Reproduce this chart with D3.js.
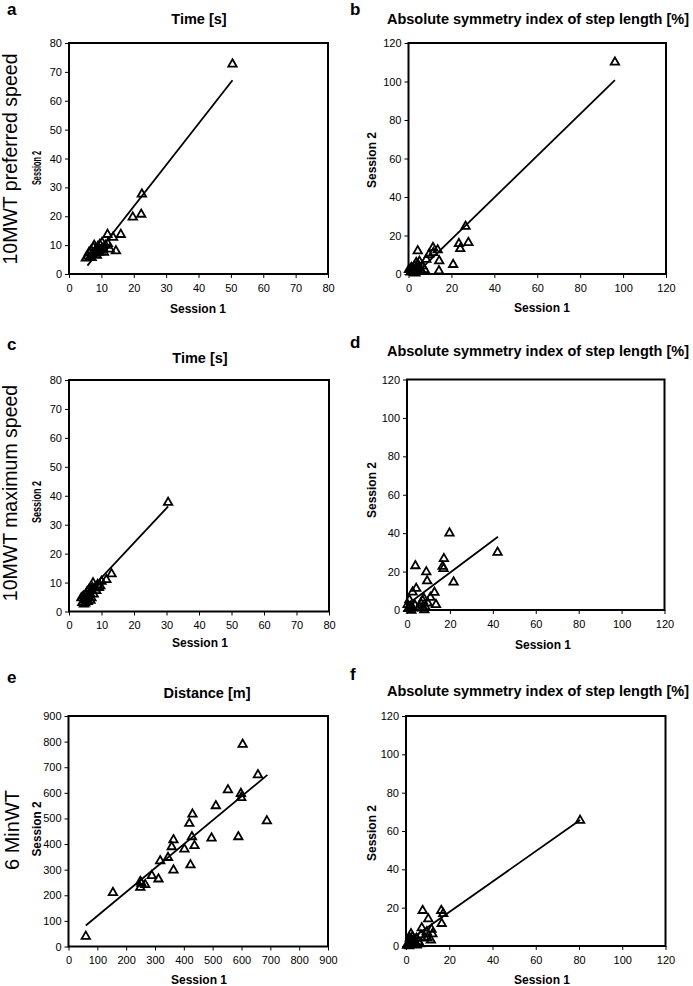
<!DOCTYPE html>
<html>
<head>
<meta charset="utf-8">
<script src="https://cdn.jsdelivr.net/npm/d3@7"></script>
<style>
  html, body { margin: 0; padding: 0; background: #fff; }
  svg { display: block; font-family: "Liberation Sans", Arial, Helvetica, sans-serif; }
</style>
</head>
<body>
<svg id="chart" width="693" height="986"></svg>
<script>
// ---------- DATA ----------
const timeTicks = [0, 10, 20, 30, 40, 50, 60, 70, 80];
const asiTicks = [0, 20, 40, 60, 80, 100, 120];
const distTicks = [0, 100, 200, 300, 400, 500, 600, 700, 800, 900];

// a: 10MWT preferred speed, Time [s]
const aSession1 = [50.5, 22.5, 19.7, 22.3, 11.9, 16.0, 13.6, 14.5, 12.6, 5.2, 5.8, 6.2, 6.5, 6.8, 7.2, 7.5, 7.8, 8.0, 8.3, 8.6, 8.9, 9.2, 9.5, 9.8, 10.2, 10.5, 10.8, 11.3, 12.0, 7.0, 9.0];
const aSession2 = [73.0, 28.0, 20.0, 21.0, 14.0, 14.0, 13.0, 8.3, 8.9, 5.8, 6.5, 7.8, 6.2, 8.5, 7.0, 9.5, 10.2, 7.5, 8.8, 6.8, 9.8, 7.8, 10.5, 8.5, 11.2, 9.2, 7.8, 10.2, 10.8, 6.0, 8.5];
const aFitX = [5.7, 50.5];
const aFitY = [2.9, 67.1];

// b: 10MWT preferred speed, ASI step length [%]
const bSession1 = [96.2, 26.6, 23.5, 24.1, 27.9, 20.8, 14.3, 14.2, 11.4, 13.6, 11.6, 9.5, 8.3, 4.3, 7.5, 5.1, 3.6, 2.8, 1.3, 0.2, 5.1, 3.9, 2.0, 6.4, 3.2, 4.6, 2.5, 1.0, 5.8];
const bSession2 = [110.5, 25.2, 16.2, 13.6, 16.8, 5.4, 7.3, 2.1, 14.2, 13.0, 11.6, 10.5, 8.1, 12.5, 2.7, 7.0, 6.4, 4.7, 3.8, 2.8, 3.8, 2.0, 2.2, 4.7, 1.0, 5.2, 1.2, 1.5, 2.6];
const bFitX = [3.5, 96.2];
const bFitY = [0.1, 100.7];

// c: 10MWT maximum speed, Time [s]
const cSession1 = [30.5, 13.1, 11.5, 10.0, 7.4, 8.4, 9.2, 8.8, 6.2, 5.6, 5.2, 3.8, 4.1, 4.6, 4.9, 5.4, 6.0, 6.4, 7.0, 7.6, 5.8, 6.9, 8.0, 4.4, 5.0, 9.6, 6.6, 7.2];
const cSession2 = [38.0, 13.3, 11.3, 10.7, 10.2, 7.5, 8.6, 9.6, 8.0, 7.2, 6.2, 5.0, 3.4, 2.9, 4.3, 4.8, 5.5, 6.7, 7.5, 6.3, 3.7, 5.0, 8.4, 5.6, 3.2, 9.2, 4.2, 8.6];
const cFitX = [3.5, 30.5];
const cFitY = [3.9, 36.3];

// d: 10MWT maximum speed, ASI step length [%]
const dSession1 = [19.8, 42.2, 3.9, 17.2, 16.6, 17.0, 9.0, 9.4, 21.7, 4.3, 2.6, 12.8, 10.9, 7.8, 13.5, 9.7, 6.5, 7.3, 8.1, 1.1, 0.3, 1.6, 0.6, 2.6, 3.7, 5.8, 7.3, 2.0, 8.5];
const dSession2 = [40.5, 30.5, 23.5, 27.2, 23.2, 22.0, 20.3, 15.6, 15.0, 11.7, 9.8, 9.6, 7.0, 6.6, 3.3, 4.1, 4.0, 1.5, 0.6, 5.8, 3.3, 2.4, 1.2, 1.5, 2.9, 1.9, 5.4, 0.3, 2.2];
const dFitX = [1.9, 42.4];
const dFitY = [4.3, 38.1];

// e: 6MinWT, Distance [m]
const eSession1 = [60, 154, 249, 249, 266, 289, 312, 318, 345, 364, 358, 364, 402, 423, 437, 428, 419, 430, 496, 511, 553, 589, 598, 599, 657, 688, 604, 253];
const eSession2 = [43, 214, 257, 234, 245, 280, 267, 338, 351, 302, 393, 420, 384, 322, 397, 432, 484, 520, 427, 553, 615, 432, 601, 585, 674, 494, 793, 250];
const eFitX = [60, 690];
const eFitY = [82, 670];

// f: 6MinWT, ASI step length [%]
const fSession1 = [80.5, 7.7, 16.3, 17.2, 16.5, 10.3, 7.3, 11.8, 12.2, 9.6, 11.5, 8.6, 2.3, 1.0, 1.8, 2.8, 3.5, 4.2, 5.0, 5.8, 0.5, 3.0, 4.8, 6.3, 1.5, 2.2, 9.9, 6.9];
const fSession2 = [66.0, 19.0, 19.0, 17.4, 12.2, 14.6, 9.9, 9.1, 6.8, 7.8, 3.5, 5.0, 6.8, 2.0, 4.5, 1.5, 3.8, 2.2, 1.0, 2.8, 0.8, 5.2, 4.4, 1.6, 0.5, 3.0, 4.6, 6.2];
const fFitX = [2.6, 80.5];
const fFitY = [3.9, 65.7];

const rowLabels = ["10MWT preferred speed", "10MWT maximum speed", "6 MinWT"];

// ---------- LAYOUT ----------
const panels = [
  { letter: "a", title: "Time [s]", s1: aSession1, s2: aSession2, fx: aFitX, fy: aFitY, xt: timeTicks, yt: timeTicks,
    L: 69, R: 328, T: 43, B: 274, lx: 7, ly: 15, tx: 199, ty: 24, s1x: 198, s1y: 313, s2x: 41, s2y: 168, s2len: 34 },
  { letter: "b", title: "Absolute symmetry index of step length [%]", s1: bSession1, s2: bSession2, fx: bFitX, fy: bFitY, xt: asiTicks, yt: asiTicks,
    L: 408.5, R: 666, T: 43, B: 274, lx: 350, ly: 15, tx: 538, ty: 24, s1x: 542, s1y: 312, s2x: 376, s2y: 160, s2len: null },
  { letter: "c", title: "Time [s]", s1: cSession1, s2: cSession2, fx: cFitX, fy: cFitY, xt: timeTicks, yt: timeTicks,
    L: 69, R: 329, T: 380, B: 611.5, lx: 7, ly: 350, tx: 200, ty: 363, s1x: 200, s1y: 647, s2x: 41, s2y: 502, s2len: 42 },
  { letter: "d", title: "Absolute symmetry index of step length [%]", s1: dSession1, s2: dSession2, fx: dFitX, fy: dFitY, xt: asiTicks, yt: asiTicks,
    L: 407, R: 664.5, T: 379.5, B: 610, lx: 350, ly: 348, tx: 538, ty: 356, s1x: 543, s1y: 649, s2x: 376, s2y: 490, s2len: null },
  { letter: "e", title: "Distance [m]", s1: eSession1, s2: eSession2, fx: eFitX, fy: eFitY, xt: distTicks, yt: distTicks,
    L: 68.5, R: 328, T: 716, B: 946.5, lx: 7, ly: 683, tx: 207, ty: 698, s1x: 199, s1y: 984, s2x: 41, s2y: 829, s2len: 55 },
  { letter: "f", title: "Absolute symmetry index of step length [%]", s1: fSession1, s2: fSession2, fx: fFitX, fy: fFitY, xt: asiTicks, yt: asiTicks,
    L: 406, R: 665.5, T: 716, B: 946, lx: 350, ly: 680, tx: 538, ty: 696, s1x: 542, s1y: 984, s2x: 376, s2y: 833, s2len: null }
];
const rowLabelPos = [{ x: 17, y: 159, size: 19.5 }, { x: 17, y: 493, size: 19.5 }, { x: 18.5, y: 830, size: 20 }];

const svg = d3.select("#chart");
svg.append("rect").attr("width", 693).attr("height", 986).attr("fill", "#fff");

const tri = "M0,-3.9L4.2,3.4L-4.2,3.4Z";

panels.forEach(p => {
  const xs = d3.scaleLinear().domain([p.xt[0], p.xt[p.xt.length - 1]]).range([p.L, p.R]);
  const ys = d3.scaleLinear().domain([p.yt[0], p.yt[p.yt.length - 1]]).range([p.B, p.T]);
  const g = svg.append("g");

  // axes
  const ax = g.append("g").attr("transform", `translate(0,${p.B})`)
    .call(d3.axisBottom(xs).tickValues(p.xt).tickSize(4).tickPadding(6).tickFormat(d3.format("d")));
  const ay = g.append("g").attr("transform", `translate(${p.L},0)`)
    .call(d3.axisLeft(ys).tickValues(p.yt).tickSize(4).tickPadding(3).tickFormat(d3.format("d")));
  [ax, ay].forEach(a => {
    a.select(".domain").remove();
    a.selectAll(".tick line").attr("stroke", "#000").attr("stroke-width", 1);
    a.selectAll(".tick text").attr("fill", "#000").style("font-size", "11px")
      .style("font-family", '"Liberation Sans", Arial, sans-serif');
  });

  // frame
  g.append("rect").attr("x", p.L).attr("y", p.T).attr("width", p.R - p.L).attr("height", p.B - p.T)
    .attr("fill", "none").attr("stroke", "#000").attr("stroke-width", 2);

  // fit line
  g.append("line")
    .attr("x1", xs(p.fx[0])).attr("y1", ys(p.fy[0]))
    .attr("x2", xs(p.fx[1])).attr("y2", ys(p.fy[1]))
    .attr("stroke", "#000").attr("stroke-width", 1.8);

  // points
  g.selectAll("path.pt").data(p.s1.map((v, i) => [v, p.s2[i]])).enter().append("path")
    .attr("class", "pt")
    .attr("d", tri)
    .attr("transform", d => `translate(${xs(d[0])},${ys(d[1])})`)
    .attr("fill", "none").attr("stroke", "#000").attr("stroke-width", 1.8).attr("stroke-linejoin", "miter");

  // texts
  g.append("text").attr("x", p.lx).attr("y", p.ly).text(p.letter)
    .style("font-size", "17px").style("font-weight", "bold");
  g.append("text").attr("x", p.tx).attr("y", p.ty).attr("text-anchor", "middle").text(p.title)
    .style("font-size", "14.5px").style("font-weight", "bold");
  g.append("text").attr("x", p.s1x).attr("y", p.s1y).attr("text-anchor", "middle").text("Session 1")
    .style("font-size", "12px").style("font-weight", "bold");
  const s2 = g.append("text").attr("transform", `translate(${p.s2x},${p.s2y}) rotate(-90)`)
    .attr("text-anchor", "middle").text("Session 2")
    .style("font-size", "12px").style("font-weight", "bold");
  if (p.s2len) s2.attr("textLength", p.s2len).attr("lengthAdjust", "spacingAndGlyphs");
});

rowLabels.forEach((t, i) => {
  const r = rowLabelPos[i];
  svg.append("text").attr("transform", `translate(${r.x},${r.y}) rotate(-90)`)
    .attr("text-anchor", "middle").text(t).style("font-size", r.size + "px");
});
</script>
</body>
</html>
